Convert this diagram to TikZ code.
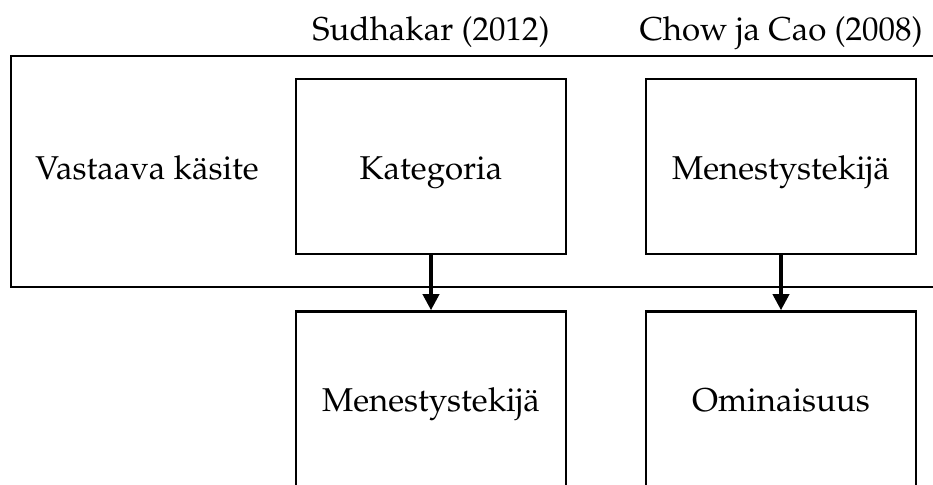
\documentclass[tikz,border=0pt]{standalone}
\usepackage[T1]{fontenc}
\usepackage{mathpazo}
\usetikzlibrary{arrows.meta, positioning}

\begin{document}
\begin{tikzpicture}[x=0.5pt, y=-0.5pt,
  txt/.style={font=\fontsize{16.5}{20}\selectfont, inner sep=0pt, text height=13pt, text depth=0pt},
  box/.style={txt, draw, line width=1.2pt, minimum width=135pt, minimum height=87.5pt},
  frame/.style={draw, line width=0.6pt, minimum width=469.5pt, minimum height=115.5pt},
  arrow/.style={line width=1.8pt, -{Triangle[width=8pt, length=8pt]}}]

\useasboundingbox (0,0) rectangle (933,484);
\clip (0,0) rectangle (933,484);

% outer row
\node[frame] (row) at (480.5,171.5) {};
\node[txt] (concept) at (147,166) {Vastaava käsite};

% top boxes
\node[box] (kat) at (431,166.5) {Kategoria};
\node[box] (mene1) at (781,166.5) {Menestystekijä};

% bottom boxes
\node[box, below=27.5pt of kat] (mene2) {Menestystekijä};
\node[box, below=27.5pt of mene1] (omin) {Ominaisuus};

% sources
\node[txt] (src1) at (kat |- 0,27) {Sudhakar (2012)};
\node[txt] (src2) at (mene1 |- 0,27) {Chow ja Cao (2008)};

\draw[arrow] (kat) -- (mene2);
\draw[arrow] (mene1) -- (omin);

\end{tikzpicture}
\end{document}
